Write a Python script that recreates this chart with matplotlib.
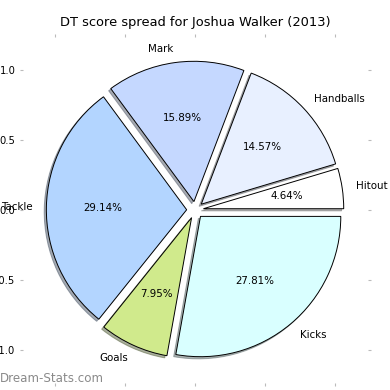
import matplotlib
matplotlib.use("Agg")
import matplotlib.pyplot as plt

labels = ["Hitout", "Handballs", "Mark", "Tackle", "Goals", "Kicks"]
values = [7, 22, 24, 44, 12, 42]
colors = ["#ffffff", "#e8f0ff", "#c5d8ff", "#b3d5ff", "#d0ea8c", "#d9ffff"]
explode = [0.06] * 6
title = "DT score spread for Joshua Walker (2013)"
ticks = [-1.0, -0.5, 0.0, 0.5, 1.0]

fig = plt.figure(figsize=(3.9, 3.9), dpi=100)
ax = fig.add_axes([0.0577, 0.0192, 0.885, 0.885])
ax.pie(values, labels=labels, colors=colors, explode=explode,
       shadow=dict(ox=-0.011, oy=-0.011, shade=0.6),
       autopct="%1.2f%%", startangle=0, frame=True,
       wedgeprops=dict(edgecolor="black", linewidth=0.7),
       textprops=dict(fontsize=7.4))
ax.set_xlim(-1.23, 1.23)
ax.set_ylim(-1.23, 1.23)
ax.set_aspect("equal")
ax.set_xticks(ticks)
ax.set_yticks(ticks)
for s in ax.spines.values():
    s.set_visible(False)
ax.tick_params(axis="both", which="both", colors="#bbbbbb", labelcolor="black",
               labelsize=7.2, length=2, pad=3.2, top=True, right=True)
ax.set_title(title, fontsize=9.4, pad=8)
fig.text(0.0, 0.013, "Dream-Stats.com", color="#8a8a8a", fontsize=8.6,
         ha="left", va="bottom")
fig.savefig("out.png", dpi=100)
